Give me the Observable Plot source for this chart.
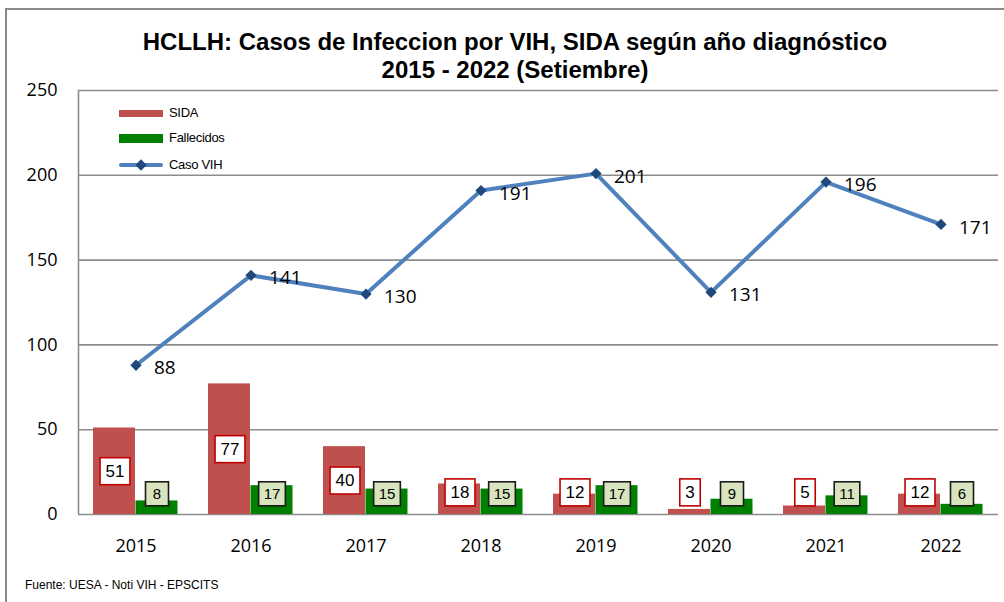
<!DOCTYPE html>
<html>
<head>
<meta charset="utf-8">
<script src="https://cdn.jsdelivr.net/npm/d3@7"></script>
<script src="https://cdn.jsdelivr.net/npm/@observablehq/plot@0.6"></script>
<style>
  html, body { margin: 0; padding: 0; background: #fff; }
  #wrap { position: relative; width: 1004px; height: 602px; overflow: hidden; background: #fff; }
  #frame { position: absolute; left: 5px; top: 8px; width: 1010px; height: 610px; border-left: 2px solid #8a8a8a; border-top: 2px solid #8a8a8a; box-sizing: border-box; }
  #title { position: absolute; left: 0; width: 1030px; top: 28px; text-align: center; font-family: "Liberation Sans Narrow", "Liberation Sans", sans-serif; font-weight: bold; font-size: 24px; line-height: 28px; color: #000; }
  #chart { position: absolute; left: 0; top: 0; }
  .leg { position: absolute; font-family: "Liberation Sans", Arial, sans-serif; font-size: 13px; color: #000; letter-spacing: -0.3px; }
  #caption { position: absolute; left: 25px; top: 578px; font-family: "Liberation Sans", Arial, sans-serif; font-size: 12px; color: #000; }
</style>
</head>
<body>
<div id="wrap">
  <div id="frame"></div>
  <div id="chart"></div>
  <div id="title">HCLLH: Casos de Infeccion por VIH, SIDA según año diagnóstico<br>2015 - 2022 (Setiembre)</div>
  <div id="legend"></div>
  <div id="caption">Fuente: UESA - Noti VIH - EPSCITS</div>
</div>
<script>
const years = ["2015", "2016", "2017", "2018", "2019", "2020", "2021", "2022"];
const sida = [51, 77, 40, 18, 12, 3, 5, 12];
const fallecidos = [8, 17, 15, 15, 17, 9, 11, 6];
const casoVIH = [88, 141, 130, 191, 201, 131, 196, 171];
const yTicks = [0, 50, 100, 150, 200, 250];

const colSida = "#C0504D";
const colFall = "#008000";
const colLine = "#4F81BD";
const colMark = "#1F497D";

const data = years.map((y, i) => ({year: y, sida: sida[i], fall: fallecidos[i], vih: casoVIH[i]}));

const plot = Plot.plot({
  width: 1004,
  height: 602,
  marginLeft: 78,
  marginRight: 6,
  marginTop: 90,
  marginBottom: 88,
  style: {fontFamily: "'Open Sans', sans-serif", fontSize: "18px", background: "transparent", color: "#000", overflow: "visible"},
  x: {domain: years, padding: 0, tickSize: 0, tickPadding: 25, label: null},
  y: {domain: [0, 250], ticks: yTicks, tickSize: 0, tickPadding: 21, label: null},
  marks: [
    Plot.ruleY(yTicks, {stroke: "#8c8c8c", strokeWidth: 1.6}),
    Plot.ruleX([years[0]], {y1: 0, y2: 250, dx: -57.5, stroke: "#8c8c8c", strokeWidth: 1.6}),
    Plot.barY(data, {x: "year", y: "sida", fill: colSida, insetLeft: 15, insetRight: 58}),
    Plot.barY(data, {x: "year", y: "fall", fill: colFall, insetLeft: 57.5, insetRight: 15.5}),
    Plot.line(data, {x: "year", y: "vih", stroke: colLine, strokeWidth: 4}),
    Plot.dot(data, {x: "year", y: "vih", symbol: "square", rotate: 45, r: 4.5, fill: colMark}),
    Plot.text(data, {x: "year", y: "vih", text: d => String(d.vih), dx: 18, dy: 3, textAnchor: "start", fontSize: 19, fill: "#000"}),
    Plot.text(data, {x: "year", y: d => Math.max(d.sida / 2, 13), text: d => String(d.sida), dx: -21, fontSize: 17, fontFamily: "'Liberation Sans', Arial, sans-serif", fill: "#000", ariaDescription: "sida-labels"}),
    Plot.text(data, {x: "year", y: d => Math.max(d.fall / 2, 11.8), text: d => String(d.fall), dx: 21, fontSize: 15, fontFamily: "'Liberation Sans', Arial, sans-serif", fill: "#000", ariaDescription: "fall-labels"})
  ]
});
document.getElementById("chart").appendChild(plot);

function boxLabels(groupIndex, desc, fill, stroke, padX, padY, minW) {
  let g = plot.querySelector(`[aria-description="${desc}"]`);
  if (!g) {
    const groups = plot.querySelectorAll('g[aria-label="text"]');
    g = groups[groupIndex];
  }
  if (!g) return;
  g.querySelectorAll("text").forEach(t => {
    const b = t.getBBox();
    let w = b.width + 2 * padX;
    if (w < minW) w = minW;
    const cx = b.x + b.width / 2;
    const r = document.createElementNS("http://www.w3.org/2000/svg", "rect");
    r.setAttribute("x", cx - w / 2);
    r.setAttribute("y", b.y - padY);
    r.setAttribute("width", w);
    r.setAttribute("height", b.height + 2 * padY);
    r.setAttribute("fill", fill);
    r.setAttribute("stroke", stroke);
    r.setAttribute("stroke-width", 1.6);
    const tr = t.getAttribute("transform");
    if (tr) r.setAttribute("transform", tr);
    t.parentNode.insertBefore(r, t);
  });
}
boxLabels(1, "sida-labels", "#ffffff", "#C00000", 5.5, 4, 20);
boxLabels(2, "fall-labels", "#D7E4BD", "#1a1a1a", 5, 3.5, 23);

// legend
const legend = document.getElementById("legend");
const items = [
  {name: "SIDA", type: "bar", color: colSida, y: 113, h: 7},
  {name: "Fallecidos", type: "bar", color: colFall, y: 138, h: 9},
  {name: "Caso VIH", type: "line", color: colLine, y: 165, h: 4}
];
items.forEach(it => {
  const sw = document.createElement("div");
  sw.style.position = "absolute";
  sw.style.left = "119px";
  sw.style.width = "44px";
  sw.style.top = (it.y - it.h / 2) + "px";
  sw.style.height = it.h + "px";
  sw.style.background = it.color;
  if (it.type === "line") sw.style.borderRadius = "2px";
  legend.appendChild(sw);
  if (it.type === "line") {
    const dm = document.createElement("div");
    dm.style.position = "absolute";
    dm.style.left = "137px";
    dm.style.top = (it.y - 4) + "px";
    dm.style.width = "8px";
    dm.style.height = "8px";
    dm.style.background = colMark;
    dm.style.transform = "rotate(45deg)";
    legend.appendChild(dm);
  }
  const tx = document.createElement("div");
  tx.className = "leg";
  tx.style.left = "169px";
  tx.style.top = (it.y - 8) + "px";
  tx.textContent = it.name;
  legend.appendChild(tx);
});
</script>
</body>
</html>
